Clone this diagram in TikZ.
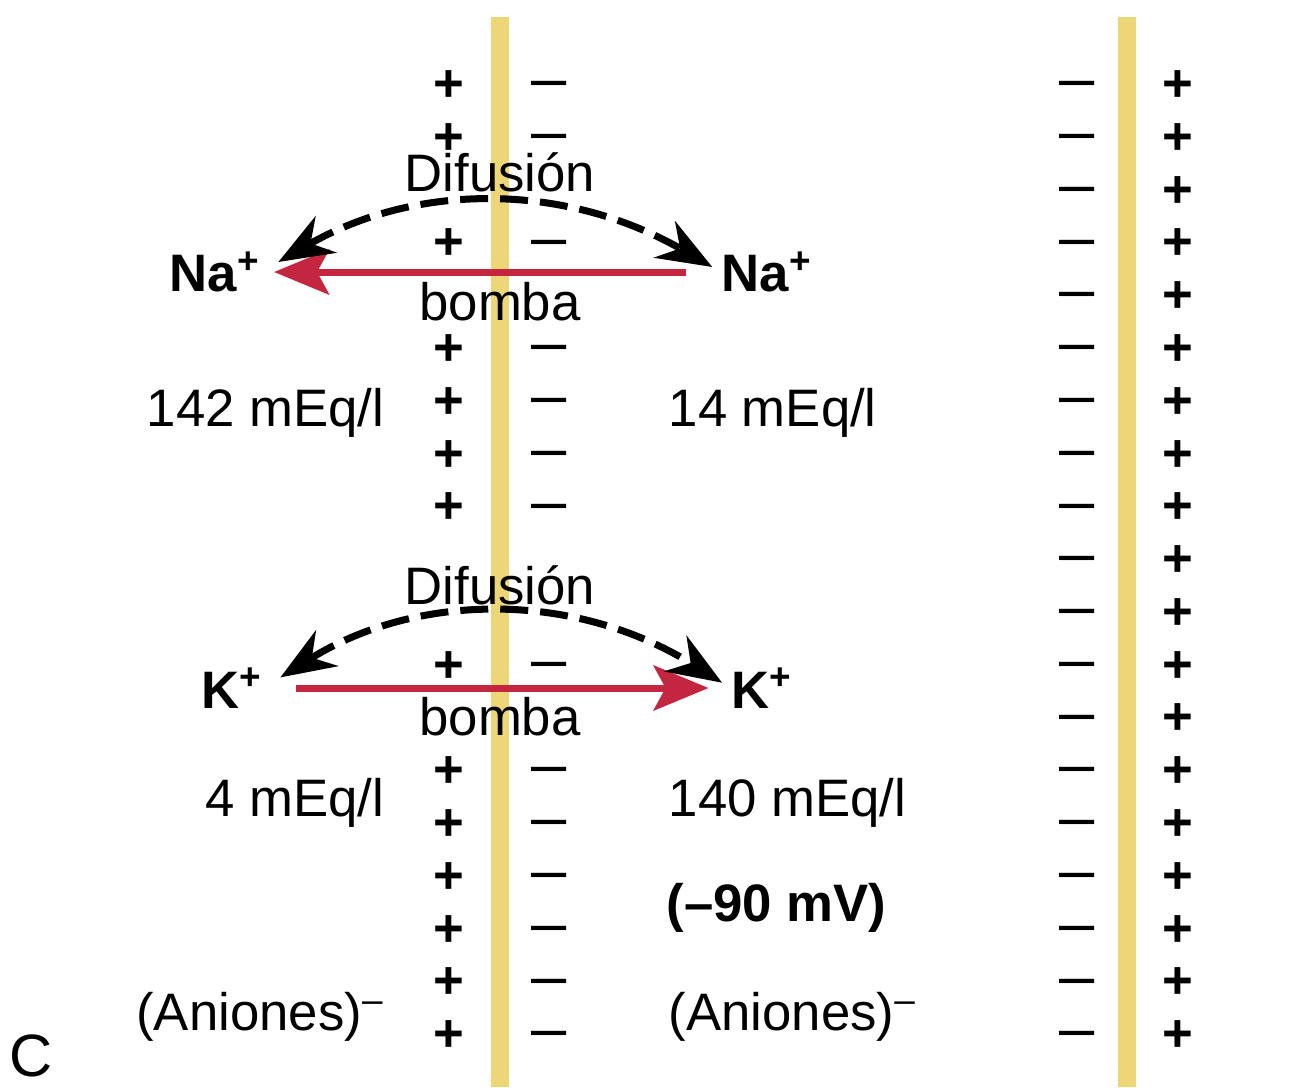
\documentclass[tikz,border=0pt]{standalone}
\usepackage{fontspec}
\setmainfont{Liberation Sans}
\usepackage{tikz}
\usetikzlibrary{arrows.meta}
\definecolor{mgold}{RGB}{237,214,120}
\definecolor{pred}{RGB}{196,38,64}

\begin{document}
\begin{tikzpicture}[
  lbl/.style={inner sep=0pt, font=\fontsize{15}{16}\selectfont},
  ion/.style={inner sep=0pt, font=\fontsize{15}{16}\selectfont\bfseries},
  sgn/.style={inner sep=0pt, text height=0.6em, text depth=0pt,
    font=\fontsize{15}{16}\selectfont\bfseries},
  neg/.style={inner sep=0pt, text height=0.5em, text depth=0pt,
    font=\fontsize{18}{18}\selectfont},
  memb/.style={fill=mgold, draw=none},
  pump/.style={-{Stealth[length=5.5mm,width=4.5mm,inset=1.2mm]},
    line width=2pt, draw=pred},
  diff/.style={{Stealth[length=5.5mm,width=4.2mm]}-{Stealth[length=5.5mm,width=4.2mm]},
    line width=2pt, dash pattern=on 2.8mm off 1.2mm}
]
  \useasboundingbox (0,0) rectangle (12.93,-10.87);

  % membranes
  \fill[memb] (4.91,-0.17) rectangle (5.09,-10.87);
  \fill[memb] (11.18,-0.17) rectangle (11.36,-10.87);

  % charges along the membranes
  \foreach \i in {0,1,3,5,6,7,8,11,13,14,15,16,17,18} {
    \node[sgn] (pa\i) at (4.49,{-0.91-0.5278*\i}) {+};
    \node[neg] (ma\i) at (5.49,{-0.91-0.5278*\i}) {--};
  }
  \foreach \i in {0,...,18} {
    \node[neg] (mb\i) at (10.77,{-0.91-0.5278*\i}) {--};
    \node[sgn] (pb\i) at (11.78,{-0.91-0.5278*\i}) {+};
  }

  % sodium
  \node[ion] (naL) at (2.15,-2.72) {Na\textsuperscript{+}};
  \node[ion] (naR) at (7.67,-2.72) {Na\textsuperscript{+}};
  \node[lbl] (dfN) at (5.00,-1.72) {Difusión};
  \node[lbl] (bmN) at (5.00,-3.02) {bomba};
  \node[lbl, anchor=east] (cNaL) at (3.85,-4.13) {142 mEq/l};
  \node[lbl, anchor=west] (cNaR) at (6.68,-4.13) {14 mEq/l};

  % potassium
  \node[ion] (kL) at (2.32,-6.88) {K\textsuperscript{+}};
  \node[ion] (kR) at (7.62,-6.88) {K\textsuperscript{+}};
  \node[lbl] (dfK) at (5.00,-5.85) {Difusión};
  \node[lbl] (bmK) at (5.00,-7.17) {bomba};
  \node[lbl, anchor=east] (cKL) at (3.85,-8.03) {4 mEq/l};
  \node[lbl, anchor=west] (cKR) at (6.68,-8.03) {140 mEq/l};

  \node[ion, anchor=west] (pot) at (6.66,-9.08) {(--90 mV)};
  \node[lbl, anchor=east] (anL) at (3.85,-10.17) {(Aniones)\textsuperscript{--}};
  \node[lbl, anchor=west] (anR) at (6.68,-10.17) {(Aniones)\textsuperscript{--}};
  \node[lbl, font=\fontsize{17}{18}\selectfont] (pan) at (0.31,-10.56) {C};

  \draw[pump, shorten <=3.5mm, shorten >=1.3mm] (naR) -- (naL);
  \draw[pump, shorten <=3.3mm, shorten >=2.2mm] (kL) -- (kR);

  \draw[diff, shorten <=2mm, shorten >=1mm] (naL.east) to[bend left=30] (naR.west);
  \draw[diff, shorten <=2mm, shorten >=1mm] (kL.east) to[bend left=32] (kR.west);
\end{tikzpicture}
\end{document}
